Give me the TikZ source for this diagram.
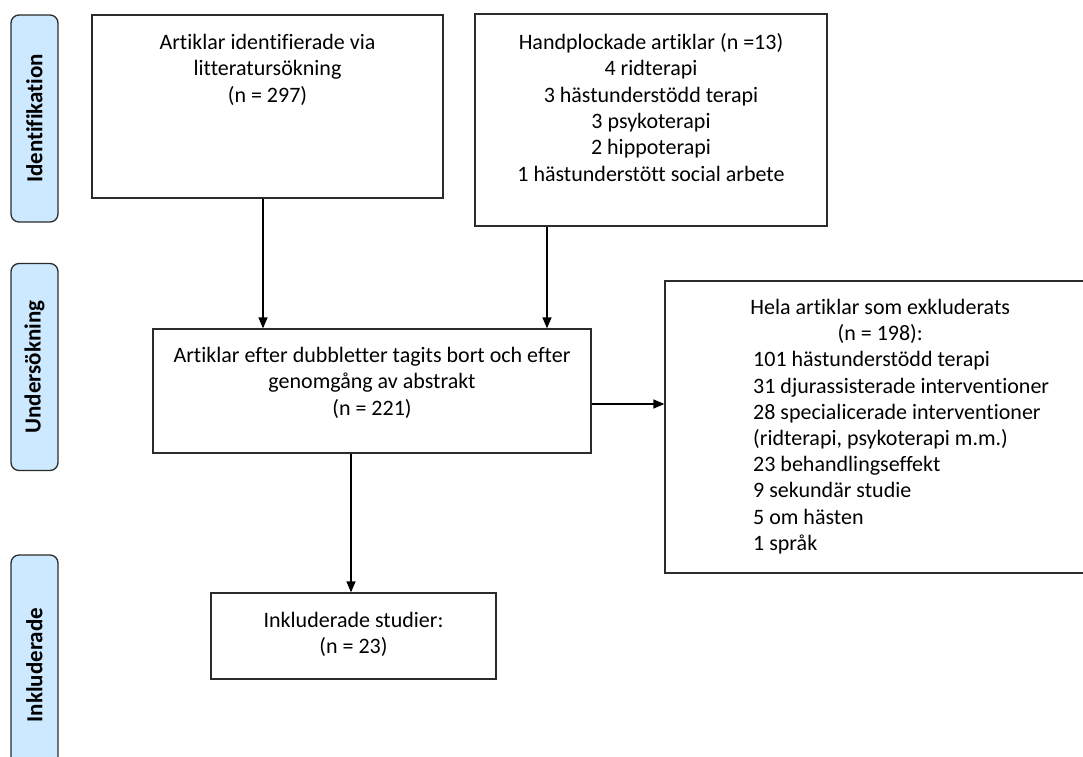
\documentclass[tikz,border=0pt]{standalone}
\usepackage{fontspec}
\setmainfont{Carlito}[Ligatures=NoCommon]
\usepackage{tikz}
\usetikzlibrary{arrows.meta, positioning, calc}
\definecolor{PhaseBlue}{HTML}{CCE9FF}
\definecolor{LineGray}{HTML}{2B2B2B}
\tikzset{
  phasebox/.style={rectangle, rounded corners=8pt, draw=LineGray, fill=PhaseBlue, line width=1.3pt, rotate=90, minimum width=207pt, minimum height=47pt, inner sep=0pt, font=\fontsize{23}{27}\selectfont\bfseries},
  flowbox/.style={rectangle, draw=LineGray, line width=1.3pt, inner sep=0pt},
  boxtext/.style={anchor=north, inner sep=0pt, align=center, font=\fontsize{22}{26.4}\selectfont},
  listtext/.style={anchor=north west, inner sep=0pt, align=left, font=\fontsize{22}{26.2}\selectfont},
  arrow/.style={-{Triangle[length=11pt, width=9pt]}, line width=1.3pt, black}
}

\begin{document}
\begin{tikzpicture}[x=1pt, y=-1pt]
  \useasboundingbox (0,0) rectangle (1083,756);
  \clip (0,0) rectangle (1083,756);

  % phases
  \node[phasebox] (ident) at (34.5,118.5) {Identifikation};
  \node[phasebox] (unders) at (34.5,367) {Undersökning};
  \node[phasebox, minimum width=220pt] (inkl) at (34.5,665) {Inkluderade};

  % boxes
  \node[flowbox, minimum width=351pt, minimum height=183pt] (search) at (267.5,106.5) {};
  \node[boxtext] at (267.5,34) {Artiklar identifierade via\\litteratursökning\\(n = 297)};

  \node[flowbox, minimum width=352pt, minimum height=212pt] (hand) at (651,120) {};
  \node[boxtext] at (651,33) {Handplockade artiklar (n =13)\\4 ridterapi\\3 hästunderstödd terapi\\3 psykoterapi\\2 hippoterapi\\1 hästunderstött social arbete};

  \node[flowbox, minimum width=438pt, minimum height=124pt] (screen) at (372,391) {};
  \node[boxtext] at (372,347) {Artiklar efter dubbletter tagits bort och efter\\genomgång av abstrakt\\(n = 221)};

  \node[flowbox, minimum width=435pt, minimum height=292pt] (excl) at (882.5,427) {};
  \node[listtext] at (753,299) {\makebox[254pt][c]{Hela artiklar som exkluderats}\\\makebox[254pt][c]{(n = 198):}\\101 hästunderstödd terapi\\31 djurassisterade interventioner\\28 specialicerade interventioner\\(ridterapi, psykoterapi m.m.)\\23 behandlingseffekt\\9 sekundär studie\\5 om hästen\\1 språk};

  \node[flowbox, minimum width=285pt, minimum height=86pt] (incl) at (353.5,636) {};
  \node[boxtext] at (353.5,612) {Inkluderade studier:\\(n = 23)};

  % arrows
  \draw[arrow] ([xshift=-4.5pt]search.south) -- ([xshift=-4.5pt]search.south |- screen.north);
  \draw[arrow] ([xshift=-104pt]hand.south) -- ([xshift=-104pt]hand.south |- screen.north);
  \draw[arrow] ([yshift=-13pt]screen.east) -- ([yshift=-13pt]screen.east -| excl.west);
  \draw[arrow] ([xshift=-21pt]screen.south) -- ([xshift=-21pt]screen.south |- incl.north);
\end{tikzpicture}
\end{document}
